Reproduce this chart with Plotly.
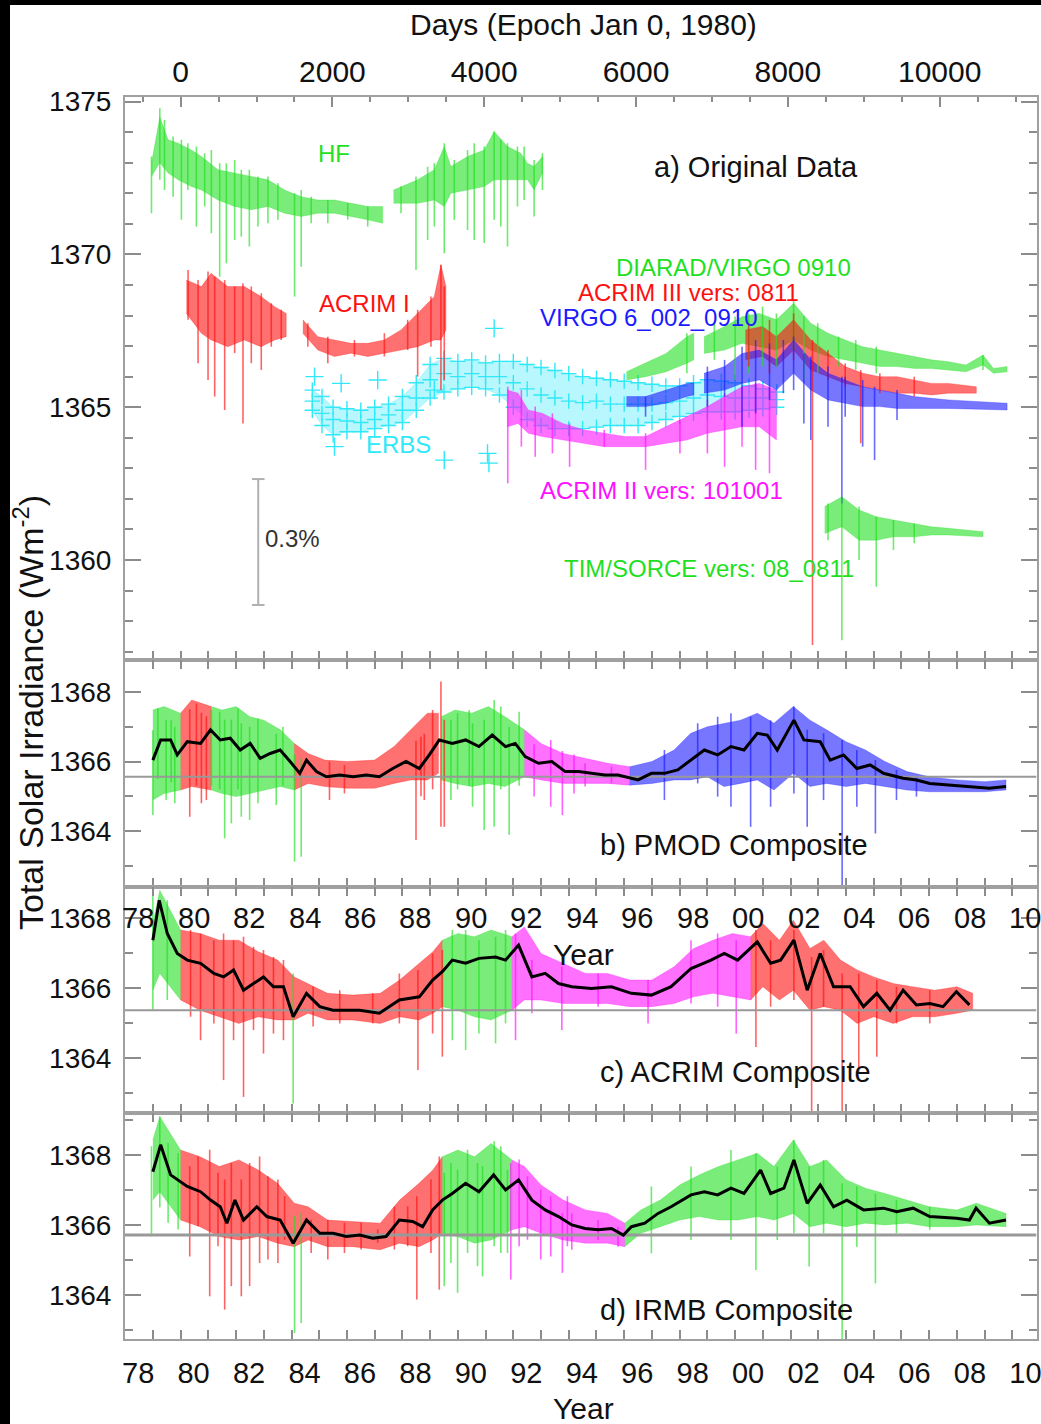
import plotly.graph_objects as go

W, H = 1041, 1424

# ---------------- axis ranges ----------------
XR = [1977.995, 2010.87]          # decimal year
EPOCH = 1980.0                    # Days epoch (Jan 0, 1980)
DPY = 365.25
YR_A = [1356.73, 1375.15]
YR_B = [1362.39, 1368.92]
YR_C = [1362.43, 1368.89]
YR_D = [1362.74, 1369.20]

YEAR_TICKS = list(range(1978, 2011, 2))
YEAR_TEXT = ["78", "80", "82", "84", "86", "88", "90", "92", "94", "96", "98",
             "00", "02", "04", "06", "08", "10"]
DAY_TICKS = [0, 2000, 4000, 6000, 8000, 10000]
DAY_TEXT = ["0", "2000", "4000", "6000", "8000", "10000"]

# ---------------- panel a : original data (band envelopes) ----------------
HF_T = [1978.95, 1979.25, 1979.55, 1979.91, 1980.39, 1980.75, 1981.35, 1981.95, 1982.55, 1983.15,
        1983.75, 1984.35, 1984.95, 1985.55, 1986.15, 1986.75, 1987.29, None,
        1987.68, 1987.95, 1988.55, 1989.15, 1989.51, 1989.75, 1990.35, 1990.95, 1991.31, 1991.79,
        1992.27, 1992.51, 1992.75, 1993.05]
HF_HI = [1372.98, 1374.50, 1373.75, 1373.64, 1373.42, 1373.20, 1372.77, 1372.66, 1372.55, 1372.44,
         1372.11, 1371.89, 1371.78, 1371.78, 1371.67, 1371.57, 1371.57, None,
         1372.11, 1372.22, 1372.44, 1372.77, 1373.53, 1372.88, 1373.20, 1373.42, 1374.02, 1373.53,
         1373.31, 1372.98, 1372.88, 1373.20]
HF_LO = [1372.55, 1373.00, 1372.66, 1372.44, 1372.22, 1372.11, 1371.78, 1371.57, 1371.46, 1371.57,
         1371.35, 1371.24, 1371.35, 1371.35, 1371.24, 1371.13, 1371.02, None,
         1371.67, 1371.67, 1371.67, 1371.78, 1371.57, 1372.00, 1372.11, 1372.22, 1372.44, 1372.44,
         1372.44, 1372.44, 1372.11, 1372.66]

A1_T = [1980.21, 1980.75, 1981.10, 1981.70, 1982.30, 1982.90, 1983.39, 1983.81, None,
        1984.41, 1984.95, 1985.55, 1986.15, 1986.75, 1987.35, 1987.95, 1988.55, 1989.15, 1989.39, 1989.57]
A1_HI = [1369.16, 1368.95, 1369.38, 1368.95, 1368.95, 1368.62, 1368.29, 1368.07, None,
         1367.86, 1367.31, 1367.20, 1367.09, 1367.09, 1367.20, 1367.53, 1368.07, 1368.62, 1369.66, 1368.95]
A1_LO = [1368.07, 1367.42, 1367.20, 1366.98, 1367.20, 1366.98, 1367.20, 1367.31, None,
         1367.42, 1366.87, 1366.66, 1366.77, 1366.66, 1366.77, 1366.87, 1366.98, 1367.20, 1367.20, 1367.53]

ERBS_T = [1984.75, 1985.1, 1985.5, 1986.0, 1986.5, 1987.0, 1987.5, 1988.0, 1988.5, 1989.0, 1989.5,
          1990.0, 1990.5, 1991.0, 1991.5, 1992.0, 1992.5, 1993.0, 1993.5, 1994.0, 1994.5, 1995.0,
          1995.5, 1996.0, 1996.5, 1997.0, 1997.5, 1998.0, 1998.5, 1999.0, 1999.5, 2000.0, 2000.5,
          2001.0, 2001.5]
ERBS_HI = [1365.56, 1365.35, 1365.00, 1364.95, 1364.90, 1365.00, 1365.10, 1365.35, 1365.80, 1366.40,
           1366.60, 1366.50, 1366.55, 1366.45, 1366.50, 1366.50, 1366.40, 1366.30, 1366.20, 1366.10,
           1366.00, 1365.95, 1365.90, 1365.85, 1365.80, 1365.75, 1365.70, 1365.70, 1365.80, 1365.90,
           1365.85, 1365.80, 1365.70, 1365.60, 1365.50]
ERBS_MID = [1365.20, 1364.80, 1364.60, 1364.55, 1364.50, 1364.60, 1364.75, 1364.90, 1365.30, 1365.90,
            1366.10, 1366.00, 1366.10, 1366.00, 1366.00, 1365.80, 1365.60, 1365.40, 1365.30, 1365.20,
            1365.15, 1365.20, 1365.10, 1365.10, 1365.10, 1365.10, 1365.15, 1365.20, 1365.30, 1365.40,
            1365.35, 1365.30, 1365.30, 1365.30, 1365.25]
ERBS_LO = [1364.90, 1364.40, 1364.10, 1364.20, 1364.20, 1364.30, 1364.40, 1364.50, 1364.90, 1365.30,
           1365.50, 1365.60, 1365.65, 1365.60, 1365.40, 1365.00, 1364.60, 1364.40, 1364.30, 1364.30,
           1364.30, 1364.35, 1364.40, 1364.40, 1364.40, 1364.50, 1364.60, 1364.70, 1364.80, 1364.85,
           1364.85, 1364.85, 1364.90, 1364.95, 1365.00]
ERBS_OUT_T = [1984.83, 1985.79, 1987.11, 1985.55, 1991.31, 1989.51, 1991.07, 1989.15, 1991.12]
ERBS_OUT_V = [1366.00, 1365.78, 1365.89, 1363.71, 1367.58, 1363.27, 1363.49, 1365.56, 1363.17]

A2_T = [1991.79, 1992.17, 1992.54, 1993.04, 1993.78, 1994.53, 1995.28, 1996.02, 1996.77, 1997.51,
        1998.26, 1999.00, 1999.62, 2000.25, 2000.87, 2001.49]
A2_HI = [1365.56, 1365.46, 1364.91, 1364.80, 1364.47, 1364.26, 1364.15, 1364.04, 1364.04, 1364.36,
         1364.69, 1365.02, 1365.35, 1365.67, 1365.78, 1365.56]
A2_LO = [1364.36, 1364.47, 1364.15, 1364.04, 1363.93, 1363.82, 1363.71, 1363.71, 1363.71, 1363.82,
         1363.93, 1364.15, 1364.26, 1364.36, 1364.36, 1363.93]

DV_T = [1996.08, 1996.77, 1997.51, 1998.26, 1998.51, None, 1998.88, 1999.62, 2000.25, 2000.87,
        2001.49, 2002.11, 2002.73, 2003.35, 2003.97, 2004.60, 2005.22, 2005.84, 2006.46, 2007.08,
        2007.70, 2008.32, 2008.94, 2009.32, 2009.81]
DV_HI = [1366.16, 1366.44, 1366.76, 1367.31, 1367.42, None, 1367.31, 1367.64, 1367.96, 1368.07,
         1367.86, 1368.40, 1367.75, 1367.42, 1367.20, 1366.98, 1366.87, 1366.76, 1366.66, 1366.55,
         1366.49, 1366.38, 1366.71, 1366.27, 1366.33]
DV_LO = [1365.89, 1366.00, 1366.16, 1366.44, 1366.55, None, 1366.76, 1366.87, 1367.09, 1366.98,
         1366.87, 1367.20, 1366.87, 1366.66, 1366.55, 1366.44, 1366.33, 1366.33, 1366.27, 1366.27,
         1366.22, 1366.16, 1366.38, 1366.11, 1366.16]

A3_T = [2000.37, 2000.99, 2001.49, 2002.11, 2002.73, 2003.35, 2003.97, 2004.60, 2005.22, 2005.84,
        2006.46, 2007.08, 2007.70, 2008.70]
A3_HI = [1367.53, 1367.64, 1367.31, 1367.86, 1367.20, 1366.76, 1366.33, 1366.11, 1366.00, 1366.00,
         1365.89, 1365.78, 1365.78, 1365.67]
A3_LO = [1366.55, 1366.66, 1366.33, 1366.87, 1366.22, 1366.00, 1365.78, 1365.67, 1365.56, 1365.46,
         1365.46, 1365.40, 1365.46, 1365.46]

VG_T = [1996.08, 1996.77, 1997.51, 1998.26, 1998.51, None, 1998.88, 1999.62, 2000.25, 2000.87,
        2001.49, 2002.11, 2002.73, 2003.35, 2003.97, 2004.60, 2005.22, 2005.84, 2006.46, 2007.70, 2009.81]
VG_HI = [1365.35, 1365.35, 1365.56, 1365.78, 1365.80, None, 1366.11, 1366.33, 1366.76, 1366.87,
         1366.55, 1367.20, 1366.55, 1366.11, 1365.89, 1365.67, 1365.56, 1365.46, 1365.35, 1365.24, 1365.13]
VG_LO = [1365.02, 1365.02, 1365.13, 1365.35, 1365.40, None, 1365.46, 1365.56, 1365.78, 1365.89,
         1365.56, 1366.11, 1365.56, 1365.24, 1365.13, 1365.02, 1365.02, 1364.96, 1364.96, 1364.96, 1364.91]

TIM_T = [2003.23, 2003.85, 2004.47, 2005.09, 2005.71, 2006.46, 2007.08, 2007.70, 2008.94]
TIM_HI = [1361.75, 1362.07, 1361.64, 1361.42, 1361.31, 1361.20, 1361.09, 1361.04, 1360.93]
TIM_LO = [1360.87, 1361.09, 1360.65, 1360.65, 1360.76, 1360.76, 1360.82, 1360.82, 1360.76]

# ---------------- panel a : individual excursions (hairs) ----------------
HA_T = [1978.95, 1979.25, 1979.42, 1979.73, 1980.03, 1980.26, 1980.57, 1980.87, 1981.11, 1981.41,
        1981.65, 1981.95, 1982.19, 1982.48, 1982.79, 1983.15, 1983.51, 1984.11, 1984.35, 1984.71,
        1985.31, 1986.03, 1986.75, 1987.95, 1988.49, 1988.91, 1989.15, 1989.51, 1989.87, 1990.35,
        1990.59, 1990.95, 1991.31, 1991.55, 1991.79, 1992.15, 1992.39, 1992.75, 1993.05,
        1980.27, 1980.63, 1980.99, 1981.23, 1981.59, 1981.95, 1982.25, 1982.55, 1982.91, 1983.27,
        1983.63, 1984.59, 1985.31, 1986.27, 1987.35, 1988.19, 1988.55, 1989.03, 1989.39, 1989.51,
        1991.80, 1992.29, 1992.79, 1993.41, 1994.03, 1995.28, 1996.77, 1998.01, 1999.00, 1999.62,
        2000.25, 2000.74, 2001.24,
        1998.26, 1999.25, 2000.00, 2000.49, 2000.99, 2001.49, 2002.11, 2002.48, 2002.98, 2003.73,
        2004.35, 2005.09, 2008.94,
        2000.49, 2001.24, 2002.11, 2002.79, 2003.35, 2003.97, 2004.53, 2005.22, 2006.46,
        1996.77, 1999.00, 1999.62, 2000.25, 2000.74, 2001.24, 2001.74, 2002.11, 2002.48, 2002.73,
        2003.35, 2003.85, 2003.97, 2004.60, 2005.03, 2005.84,
        2003.35, 2003.85, 2004.47, 2005.09, 2005.71, 2006.46]
HA_TOP = [1373.20, 1374.78, 1374.40, 1373.86, 1373.75, 1373.64, 1373.53, 1373.31, 1373.42, 1372.98,
          1372.98, 1373.09, 1372.77, 1372.77, 1372.55, 1372.55, 1372.33, 1372.00, 1372.11, 1371.89,
          1371.78, 1371.67, 1371.57, 1372.22, 1372.55, 1372.87, 1372.98, 1373.64, 1373.09, 1373.42,
          1373.64, 1373.53, 1374.02, 1373.75, 1373.64, 1373.53, 1373.53, 1373.09, 1373.31,
          1369.49, 1369.16, 1369.44, 1369.27, 1369.16, 1368.95, 1369.06, 1368.95, 1368.73, 1368.40,
          1368.19, 1367.75, 1367.31, 1367.20, 1367.42, 1367.86, 1368.19, 1368.62, 1369.66, 1368.95,
          1365.67, 1365.56, 1365.02, 1364.80, 1364.47, 1364.26, 1364.15, 1364.58, 1365.24, 1365.46,
          1365.67, 1365.78, 1365.67,
          1367.42, 1367.75, 1367.97, 1368.07, 1368.29, 1368.07, 1368.51, 1367.97, 1367.75, 1367.31,
          1367.20, 1366.98, 1366.71,
          1367.75, 1367.86, 1368.07, 1367.20, 1366.87, 1366.44, 1366.22, 1366.11, 1366.00,
          1365.35, 1366.33, 1366.55, 1366.98, 1367.20, 1367.09, 1367.20, 1367.31, 1366.76, 1366.66,
          1366.33, 1366.00, 1366.00, 1365.89, 1365.67, 1365.56,
          1361.85, 1362.07, 1361.75, 1361.42, 1361.31, 1361.20]
HA_BOT = [1371.35, 1372.44, 1372.11, 1371.89, 1371.13, 1372.11, 1370.91, 1371.57, 1370.69, 1369.27,
          1369.71, 1370.47, 1370.58, 1370.26, 1370.91, 1371.02, 1371.13, 1368.62, 1369.60, 1371.02,
          1371.02, 1371.13, 1370.91, 1371.35, 1369.49, 1370.47, 1370.91, 1370.04, 1371.13, 1370.80,
          1370.47, 1370.37, 1371.13, 1370.91, 1370.26, 1371.57, 1371.78, 1371.24, 1372.11,
          1367.86, 1366.44, 1365.89, 1365.35, 1364.91, 1366.77, 1364.47, 1366.44, 1366.22, 1366.98,
          1367.20, 1366.98, 1366.44, 1366.66, 1366.66, 1366.87, 1366.00, 1366.98, 1365.56, 1365.89,
          1362.51, 1363.71, 1363.38, 1363.49, 1363.05, 1363.71, 1362.95, 1363.49, 1363.49, 1363.05,
          1363.71, 1362.95, 1362.84,
          1366.11, 1366.55, 1365.89, 1366.11, 1366.33, 1366.33, 1366.87, 1365.89, 1366.11, 1366.33,
          1366.22, 1366.11, 1366.22,
          1366.33, 1366.11, 1366.55, 1357.22, 1365.89, 1365.67, 1363.82, 1365.46, 1365.35,
          1364.69, 1365.02, 1365.35, 1364.36, 1364.80, 1365.24, 1365.46, 1365.56, 1364.47, 1363.93,
          1364.36, 1361.85, 1364.69, 1363.71, 1363.27, 1364.58,
          1360.65, 1357.38, 1360.00, 1359.13, 1360.33, 1360.55]
HA_SRC = ["HF"] * 39 + ["A1"] * 20 + ["A2"] * 13 + ["DV"] * 13 + ["A3"] * 9 + ["V"] * 16 + ["TIM"] * 6

# ---------------- panel b : PMOD composite ----------------
PB_T = [1979.00, 1979.40, 1980.00, 1980.00, 1980.40, 1981.10,
        1981.10, 1981.50, 1982.00, 1982.50, 1983.00, 1983.60, 1984.10,
        1984.10, 1984.60, 1985.20, 1986.00, 1987.00, 1987.70, 1988.30, 1988.90, 1989.30,
        1989.40, 1989.90, 1990.50, 1991.10, 1991.70, 1992.40,
        1992.40, 1993.00, 1993.80, 1994.60, 1995.40, 1996.20,
        1996.20, 1997.00, 1997.80, 1998.40, 1999.00, 1999.60, 2000.20, 2000.80, 2001.40, 2002.10,
        2002.70, 2003.30, 2004.00, 2004.70, 2005.40, 2006.20, 2007.00, 2008.00, 2009.00, 2009.77]
PB_HI = [1367.48, 1367.58, 1367.39, 1367.39, 1367.77, 1367.58,
         1367.58, 1367.48, 1367.58, 1367.29, 1367.19, 1366.91, 1366.52,
         1366.52, 1366.23, 1366.04, 1366.00, 1366.04, 1366.43, 1366.91, 1367.39, 1367.39,
         1367.29, 1367.48, 1367.39, 1367.58, 1367.29, 1366.91,
         1366.91, 1366.52, 1366.23, 1366.09, 1365.95, 1365.85,
         1365.85, 1366.00, 1366.33, 1366.81, 1367.00, 1367.10, 1367.19, 1367.39, 1367.10, 1367.58,
         1367.19, 1366.91, 1366.57, 1366.33, 1366.00, 1365.71, 1365.56, 1365.47, 1365.42, 1365.47]
PB_LO = [1364.89, 1365.08, 1365.18, 1365.18, 1365.28, 1365.18,
         1365.18, 1365.08, 1364.99, 1365.08, 1365.18, 1365.28, 1365.18,
         1365.18, 1365.37, 1365.28, 1365.23, 1365.23, 1365.37, 1365.47, 1365.47, 1365.66,
         1365.47, 1365.37, 1365.28, 1365.37, 1365.28, 1365.56,
         1365.56, 1365.47, 1365.37, 1365.37, 1365.37, 1365.32,
         1365.32, 1365.37, 1365.47, 1365.47, 1365.56, 1365.28, 1365.37, 1365.47, 1365.18, 1365.66,
         1365.28, 1365.37, 1365.28, 1365.37, 1365.28, 1365.18, 1365.13, 1365.13, 1365.13, 1365.18]
PB_SRC = ["HF"] * 3 + ["A1"] * 3 + ["HF"] * 7 + ["A1"] * 9 + ["HF"] * 6 + ["A2"] * 6 + ["V"] * 20

PB_H_T = [1979.00, 1979.18, 1979.48, 1979.66, 1979.79,
          1980.33, 1980.57, 1980.75, 1980.93,
          1981.11, 1981.41, 1981.59, 1981.83, 1982.07, 1982.19, 1982.49, 1982.79, 1983.45, 1983.69,
          1984.11, 1984.35,
          1985.37, 1985.91, 1988.49, 1988.67, 1988.79, 1989.09, 1989.39, 1989.51,
          1989.75, 1989.99, 1990.41, 1990.53, 1990.95, 1991.31, 1991.55, 1991.85, 1992.21,
          1992.75, 1993.35, 1993.77, 1994.19, 1994.59, 1995.54,
          1997.45, 1998.65, 1999.37, 1999.85, 2000.56, 2001.28, 2002.12, 2002.60, 2003.19, 2003.86,
          2004.39, 2005.06, 2005.82, 2006.54]
PB_H_TOP = [1366.90, 1367.53, 1367.20, 1367.19, 1367.00,
            1367.50, 1367.67, 1367.40, 1367.30,
            1367.48, 1367.43, 1367.20, 1367.20, 1367.53, 1367.10, 1367.00, 1367.24, 1366.80, 1367.00,
            1366.20, 1366.10,
            1366.00, 1365.90, 1366.60, 1366.71, 1366.80, 1367.48, 1368.30, 1367.20,
            1367.20, 1367.39, 1367.48, 1367.10, 1367.20, 1367.77, 1367.58, 1367.00, 1367.43,
            1366.50, 1366.62, 1366.30, 1366.20, 1365.95, 1365.85,
            1366.33, 1367.10, 1367.29, 1367.39, 1367.29, 1367.19, 1367.58, 1366.91, 1366.81, 1366.62,
            1366.33, 1366.04, 1365.76, 1365.56]
PB_H_BOT = [1364.46, 1365.50, 1364.89, 1365.40, 1364.80,
            1364.41, 1365.30, 1364.80, 1364.89,
            1365.30, 1365.20, 1363.79, 1364.22, 1365.20, 1364.41, 1364.32, 1364.80, 1364.75, 1365.30,
            1363.12, 1363.26,
            1364.89, 1365.08, 1363.74, 1365.00, 1364.89, 1365.20, 1364.12, 1364.12,
            1364.89, 1365.20, 1365.30, 1364.70, 1364.03, 1364.12, 1365.20, 1363.89, 1365.30,
            1364.99, 1364.70, 1364.46, 1365.08, 1365.28, 1365.37,
            1364.89, 1365.37, 1364.99, 1364.70, 1364.12, 1364.70, 1365.08, 1364.12, 1364.89, 1362.40,
            1364.70, 1363.93, 1364.89, 1364.99]
PB_H_SRC = (["HF"] * 5 + ["A1"] * 4 + ["HF"] * 12 + ["A1"] * 8 + ["HF"] * 9 + ["A2"] * 6
            + ["V"] * 14)

PB_LINE_T = [1979.00, 1979.28, 1979.64, 1979.88, 1980.24, 1980.72, 1981.08, 1981.43, 1981.79, 1982.15,
             1982.51, 1982.87, 1983.23, 1983.59, 1983.95, 1984.30, 1984.54, 1984.90, 1985.26, 1985.74,
             1986.22, 1986.70, 1987.17, 1987.65, 1988.13, 1988.61, 1988.97, 1989.33, 1989.80, 1990.28,
             1990.76, 1991.24, 1991.72, 1992.07, 1992.43, 1992.91, 1993.39, 1993.87, 1994.35, 1994.82,
             1995.30, 1995.78, 1996.50, 1996.98, 1997.45, 1997.93, 1998.41, 1998.89, 1999.37, 1999.85,
             2000.32, 2000.80, 2001.16, 2001.52, 2002.12, 2002.48, 2003.07, 2003.43, 2003.91, 2004.39,
             2004.87, 2005.35, 2006.06, 2006.54, 2007.02, 2007.74, 2008.45, 2009.17, 2009.77]
PB_LINE_V = [1366.04, 1366.62, 1366.62, 1366.19, 1366.57, 1366.52, 1366.91, 1366.62, 1366.67, 1366.33,
             1366.52, 1366.09, 1366.23, 1366.33, 1366.00, 1365.66, 1366.04, 1365.71, 1365.56, 1365.61,
             1365.56, 1365.61, 1365.56, 1365.80, 1366.00, 1365.80, 1366.19, 1366.62, 1366.52, 1366.62,
             1366.43, 1366.76, 1366.43, 1366.52, 1366.14, 1365.95, 1366.00, 1365.71, 1365.71, 1365.66,
             1365.61, 1365.61, 1365.47, 1365.66, 1365.66, 1365.76, 1366.04, 1366.33, 1366.19, 1366.43,
             1366.33, 1366.81, 1366.76, 1366.33, 1367.19, 1366.62, 1366.57, 1366.04, 1366.19, 1365.80,
             1365.90, 1365.66, 1365.52, 1365.47, 1365.37, 1365.32, 1365.28, 1365.23, 1365.28]
PB_REF = 1365.56

# ---------------- panel c : ACRIM composite ----------------
PC_T = [1979.00, 1979.25, 1980.00,
        1980.00, 1980.70, 1981.40, 1982.10, 1982.80, 1983.50, 1984.10, 1984.60, 1985.30, 1986.20,
        1987.20, 1987.90, 1988.60, 1989.10, 1989.44,
        1989.44, 1990.00, 1990.60, 1991.20, 1991.95,
        1991.95, 1992.40, 1993.00, 1993.80, 1994.60, 1995.40, 1996.20, 1997.00, 1997.80, 1998.50,
        1999.20, 1999.90, 2000.56,
        2000.56, 2001.00, 2001.60, 2002.10, 2002.70, 2003.20, 2003.80, 2004.40, 2005.00, 2005.70,
        2006.40, 2007.20, 2008.00, 2008.57]
PC_HI = [1367.85, 1368.80, 1367.66,
         1367.66, 1367.56, 1367.37, 1367.37, 1367.04, 1366.80, 1366.32, 1366.13, 1365.85, 1365.80,
         1365.85, 1366.23, 1366.71, 1367.04, 1367.37,
         1367.37, 1367.56, 1367.47, 1367.66, 1367.47,
         1367.47, 1367.75, 1366.99, 1366.71, 1366.42, 1366.42, 1366.23, 1366.23, 1366.61, 1367.13,
         1367.37, 1367.56, 1367.47,
         1367.47, 1367.85, 1367.37, 1367.94, 1367.13, 1367.37, 1366.80, 1366.52, 1366.32, 1366.13,
         1366.04, 1365.94, 1366.04, 1365.85]
PC_LO = [1365.94, 1366.42, 1365.66,
         1365.66, 1365.37, 1365.18, 1364.99, 1365.18, 1365.09, 1365.09, 1365.28, 1365.09, 1365.09,
         1364.99, 1365.18, 1365.09, 1365.28, 1365.47,
         1365.47, 1365.37, 1365.18, 1365.09, 1365.37,
         1365.37, 1365.66, 1365.66, 1365.56, 1365.56, 1365.56, 1365.47, 1365.47, 1365.56, 1365.75,
         1365.85, 1365.75, 1365.66,
         1365.66, 1366.04, 1365.66, 1365.94, 1365.37, 1365.47, 1365.37, 1364.99, 1365.18, 1364.99,
         1365.18, 1365.18, 1365.28, 1365.37]
PC_SRC = ["HF"] * 3 + ["A1"] * 15 + ["HF"] * 5 + ["A2"] * 13 + ["A3"] * 14

PC_H_T = [1979.00, 1979.52,
          1980.36, 1980.72, 1981.20, 1981.55, 1981.91, 1982.27, 1982.63, 1982.99, 1983.35, 1983.71,
          1984.06,
          1984.78, 1985.74, 1986.93, 1987.89, 1988.56, 1989.09, 1989.44,
          1989.80, 1990.28, 1990.76, 1991.36, 1991.72,
          1992.08, 1992.67, 1993.75, 1995.06, 1996.86, 1998.41, 1999.37, 2000.04,
          2000.75, 2001.28, 2002.12, 2002.76, 2003.19, 2003.86, 2004.46, 2005.11, 2005.82, 2007.02]
PC_H_TOP = [1368.80, 1368.51,
            1367.66, 1367.56, 1367.37, 1367.56, 1367.37, 1367.47, 1367.18, 1367.09, 1366.89, 1366.80,
            1366.42,
            1366.04, 1365.94, 1365.85, 1366.42, 1366.52, 1366.99, 1367.09,
            1367.66, 1367.66, 1367.37, 1367.47, 1367.66,
            1367.56, 1366.80, 1366.61, 1366.42, 1366.23, 1367.37, 1367.56, 1367.37,
            1367.66, 1367.37, 1367.66, 1366.89, 1367.09, 1366.42, 1366.42, 1366.23, 1366.04, 1365.94]
PC_H_BOT = [1365.37, 1365.66,
            1365.18, 1364.51, 1364.99, 1363.37, 1364.51, 1362.89, 1364.80, 1364.13, 1364.70, 1364.51,
            1362.70,
            1364.90, 1364.99, 1364.99, 1364.99, 1363.66, 1364.70, 1364.04,
            1364.51, 1364.23, 1364.70, 1364.42, 1364.99,
            1364.51, 1365.28, 1364.80, 1365.47, 1364.99, 1365.56, 1365.47, 1364.70,
            1364.32, 1365.47, 1365.66, 1361.66, 1365.47, 1361.66, 1363.56, 1364.04, 1364.99, 1364.99]
PC_H_SRC = (["HF"] * 2 + ["A1"] * 10 + ["HF"] + ["A1"] * 7 + ["HF"] * 5 + ["A2"] * 8
            + ["A3"] * 10)

PC_LINE_T = [1979.00, 1979.23, 1979.52, 1979.88, 1980.24, 1980.72, 1981.20, 1981.55, 1981.91, 1982.27,
             1982.63, 1982.99, 1983.35, 1983.71, 1984.06, 1984.54, 1985.02, 1985.50, 1986.46, 1987.17,
             1987.89, 1988.61, 1989.09, 1989.44, 1989.80, 1990.28, 1990.76, 1991.36, 1991.72, 1992.19,
             1992.67, 1993.15, 1993.63, 1994.11, 1994.82, 1995.54, 1996.26, 1996.98, 1997.69, 1998.41,
             1999.13, 1999.61, 2000.09, 2000.80, 2001.28, 2001.64, 2002.12, 2002.60, 2003.07, 2003.55,
             2004.15, 2004.63, 2005.11, 2005.59, 2006.06, 2006.54, 2007.02, 2007.50, 2007.98, 2008.45]
PC_LINE_V = [1367.37, 1368.51, 1367.56, 1366.99, 1366.80, 1366.71, 1366.42, 1366.32, 1366.52, 1365.94,
             1366.13, 1366.32, 1366.04, 1366.04, 1365.18, 1365.85, 1365.47, 1365.37, 1365.37, 1365.28,
             1365.66, 1365.75, 1366.23, 1366.47, 1366.80, 1366.71, 1366.85, 1366.89, 1366.80, 1367.23,
             1366.32, 1366.42, 1366.13, 1366.04, 1365.99, 1366.04, 1365.85, 1365.80, 1366.04, 1366.56,
             1366.80, 1366.99, 1366.80, 1367.32, 1366.71, 1366.80, 1367.37, 1365.94, 1366.99, 1366.04,
             1366.04, 1365.47, 1365.85, 1365.37, 1365.94, 1365.52, 1365.56, 1365.47, 1365.90, 1365.52]
PC_REF = 1365.37

# ---------------- panel d : IRMB composite ----------------
PD_T = [1979.00, 1979.25, 1980.00,
        1980.00, 1980.70, 1981.40, 1982.10, 1982.80, 1983.50, 1984.10, 1984.60, 1985.30, 1986.20,
        1987.20, 1987.90, 1988.60, 1989.10, 1989.44,
        1989.44, 1990.00, 1990.60, 1991.20, 1991.95,
        1991.95, 1992.40, 1993.00, 1993.80, 1994.60, 1995.40, 1996.02,
        1996.02, 1996.60, 1997.30, 1998.00, 1998.70, 1999.40, 2000.10, 2000.80, 2001.40, 2002.10,
        2002.70, 2003.30, 2004.00, 2004.70, 2005.40, 2006.20, 2007.00, 2008.00, 2008.70, 2009.77]
PD_HI = [1368.43, 1369.10, 1368.14,
         1368.14, 1367.95, 1367.67, 1367.86, 1367.57, 1367.19, 1366.62, 1366.52, 1366.14, 1366.10,
         1366.05, 1366.71, 1367.19, 1367.57, 1367.95,
         1367.95, 1368.14, 1367.95, 1368.33, 1367.86,
         1367.86, 1367.67, 1367.14, 1366.71, 1366.43, 1366.33, 1366.05,
         1366.05, 1366.43, 1366.71, 1367.14, 1367.43, 1367.67, 1367.86, 1368.05, 1367.67, 1368.43,
         1367.67, 1367.86, 1367.29, 1367.05, 1366.90, 1366.71, 1366.52, 1366.43, 1366.62, 1366.33]
PD_LO = [1366.71, 1366.95, 1366.14,
         1366.14, 1365.95, 1365.67, 1365.57, 1365.67, 1365.48, 1365.38, 1365.57, 1365.38, 1365.38,
         1365.29, 1365.48, 1365.38, 1365.57, 1365.76,
         1365.76, 1365.67, 1365.48, 1365.57, 1365.86,
         1365.86, 1365.95, 1365.76, 1365.57, 1365.48, 1365.48, 1365.38,
         1365.38, 1365.76, 1365.95, 1366.14, 1366.24, 1366.14, 1366.14, 1366.24, 1366.14, 1366.33,
         1365.95, 1366.05, 1365.95, 1366.05, 1366.00, 1366.05, 1365.95, 1365.95, 1366.00, 1365.95]
PD_SRC = ["HF"] * 3 + ["A1"] * 15 + ["HF"] * 5 + ["A2"] * 7 + ["DV"] * 20

PD_H_T = [1978.95, 1979.25, 1979.55, 1979.91,
          1980.33, 1980.63, 1981.05, 1981.35, 1981.59, 1981.83, 1982.19, 1982.49, 1982.85, 1983.15,
          1983.51, 1983.75,
          1984.11, 1984.35,
          1984.71, 1985.31, 1985.91, 1986.51, 1987.11, 1987.71, 1988.19, 1988.52, 1989.03, 1989.33,
          1989.51, 1989.75, 1989.99, 1990.35, 1990.71, 1990.89, 1991.31, 1991.55, 1991.79,
          1991.91, 1992.21, 1992.51, 1992.99, 1993.35, 1993.77, 1993.95, 1994.11, 1995.06, 1995.78,
          1996.98, 1998.41, 1999.85, 2000.75, 2001.52, 2002.12, 2002.67, 2003.19, 2003.86, 2004.39,
          2005.06, 2005.82, 2007.02]
PD_H_TOP = [1368.25, 1369.10, 1368.34, 1368.06,
            1367.68, 1367.96, 1368.15, 1367.49, 1367.30, 1367.77, 1367.30, 1367.77, 1367.96, 1367.39,
            1367.30, 1366.82,
            1366.25, 1366.34,
            1366.15, 1366.15, 1366.06, 1366.06, 1365.87, 1366.53, 1366.53, 1366.82, 1367.30, 1367.96,
            1367.49, 1367.77, 1367.58, 1368.15, 1367.77, 1367.68, 1368.39, 1368.25, 1367.58,
            1367.77, 1367.87, 1367.39, 1367.01, 1366.82, 1366.34, 1366.82, 1366.33, 1366.14, 1365.95,
            1367.10, 1367.67, 1368.14, 1368.05, 1367.67, 1368.43, 1367.67, 1367.86, 1367.19, 1367.10,
            1366.90, 1366.71, 1366.52]
PD_H_BOT = [1365.68, 1366.50, 1366.06, 1365.87,
            1365.10, 1365.96, 1363.96, 1365.39, 1363.58, 1364.25, 1363.96, 1364.25, 1364.91, 1365.01,
            1364.91, 1365.58,
            1362.91, 1363.20,
            1365.20, 1365.01, 1365.20, 1365.30, 1365.49, 1365.30, 1365.39, 1363.87, 1365.20, 1364.15,
            1364.25, 1364.91, 1364.06, 1365.20, 1364.82, 1364.53, 1365.39, 1365.20, 1365.20,
            1364.44, 1365.39, 1365.58, 1365.01, 1365.10, 1364.63, 1365.39, 1365.29, 1365.57, 1365.38,
            1365.19, 1365.57, 1365.57, 1364.71, 1365.57, 1365.76, 1364.81, 1365.76, 1362.74, 1365.38,
            1364.33, 1365.76, 1365.86]
PD_H_SRC = (["HF"] * 4 + ["A1"] * 12 + ["HF"] * 2 + ["A1"] * 10 + ["HF"] * 9 + ["A2"] * 10
            + ["DV"] * 13)

PD_LINE_T = [1979.00, 1979.28, 1979.64, 1979.88, 1980.24, 1980.72, 1981.08, 1981.43, 1981.67, 1981.96,
             1982.27, 1982.75, 1983.11, 1983.59, 1984.06, 1984.54, 1985.02, 1985.50, 1985.98, 1986.46,
             1986.93, 1987.41, 1987.89, 1988.37, 1988.73, 1989.09, 1989.44, 1989.80, 1990.28, 1990.76,
             1991.29, 1991.72, 1992.19, 1992.67, 1993.15, 1993.63, 1994.11, 1994.59, 1995.06, 1995.54,
             1995.97, 1996.26, 1996.74, 1997.22, 1997.69, 1998.41, 1998.89, 1999.37, 1999.85, 2000.32,
             2000.92, 2001.28, 2001.76, 2002.12, 2002.60, 2003.07, 2003.55, 2004.03, 2004.63, 2005.35,
             2005.83, 2006.42, 2007.02, 2007.98, 2008.45, 2008.69, 2009.17, 2009.77]
PD_LINE_V = [1367.52, 1368.29, 1367.43, 1367.29, 1367.10, 1366.95, 1366.71, 1366.52, 1366.05, 1366.71,
             1366.14, 1366.52, 1366.24, 1366.14, 1365.48, 1366.14, 1365.76, 1365.76, 1365.67, 1365.71,
             1365.62, 1365.67, 1366.14, 1366.10, 1365.95, 1366.43, 1366.71, 1366.90, 1367.19, 1366.95,
             1367.43, 1367.00, 1367.29, 1366.71, 1366.43, 1366.24, 1366.00, 1365.90, 1365.86, 1365.90,
             1365.71, 1365.95, 1366.05, 1366.33, 1366.52, 1366.86, 1366.95, 1366.86, 1367.05, 1366.90,
             1367.57, 1366.90, 1367.05, 1367.86, 1366.62, 1367.14, 1366.52, 1366.71, 1366.43, 1366.48,
             1366.38, 1366.48, 1366.24, 1366.19, 1366.14, 1366.48, 1366.05, 1366.14]
PD_REF = 1365.71

# scale bar (0.3 %)
SB_X = 1982.80
SB_LO, SB_HI = 1358.53, 1362.65

# ---------------- styling ----------------
COL = {"HF": "#1fe01f", "DV": "#1fe01f", "TIM": "#1fe01f", "A1": "#ff1010", "A3": "#ff1010",
       "A2": "#ff10ff", "V": "#1a1aff", "ERBS": "#30e8f8"}
FONT = "Liberation Sans, Arial, Helvetica, sans-serif"
FRAME = "#a0a0a0"
TICKC = "#8c8c8c"
BAND_ALPHA = 0.6


def rgba(hexc, a):
    h = hexc.lstrip("#")
    return "rgba(%d,%d,%d,%s)" % (int(h[0:2], 16), int(h[2:4], 16), int(h[4:6], 16), a)


fig = go.Figure()


def poly(t, hi, lo, idx, color, xa, ya, alpha=BAND_ALPHA):
    xs = [t[i] for i in idx] + [t[i] for i in reversed(idx)]
    ys = [hi[i] for i in idx] + [lo[i] for i in reversed(idx)]
    fig.add_trace(go.Scatter(x=xs, y=ys, mode="lines", fill="toself",
                             fillcolor=rgba(color, alpha), line=dict(color=rgba(color, 0.35), width=0.8),
                             hoverinfo="skip", showlegend=False, xaxis=xa, yaxis=ya))


def band(t, hi, lo, color, xa, ya, alpha=BAND_ALPHA):
    run = []
    for i, v in enumerate(t):
        if v is None:
            if run:
                poly(t, hi, lo, run, color, xa, ya, alpha)
            run = []
        else:
            run.append(i)
    if run:
        poly(t, hi, lo, run, color, xa, ya, alpha)


def comp_band(t, hi, lo, src, xa, ya):
    i, n = 0, len(t)
    while i < n:
        j = i
        while j + 1 < n and src[j + 1] == src[i]:
            j += 1
        poly(t, hi, lo, list(range(i, j + 1)), COL[src[i]], xa, ya)
        i = j + 1


def hairs(t, top, bot, src, xa, ya):
    for s in dict.fromkeys(src):
        xs, ys = [], []
        for k in range(len(t)):
            if src[k] == s:
                xs += [t[k], t[k], None]
                ys += [top[k], bot[k], None]
        fig.add_trace(go.Scatter(x=xs, y=ys, mode="lines", line=dict(color=rgba(COL[s], 0.65), width=1.6),
                                 hoverinfo="skip", showlegend=False, xaxis=xa, yaxis=ya))


def black(t, v, xa, ya):
    fig.add_trace(go.Scatter(x=t, y=v, mode="lines", line=dict(color="black", width=3),
                             hoverinfo="skip", showlegend=False, xaxis=xa, yaxis=ya))


def refline(v, xa, ya, w=2):
    fig.add_trace(go.Scatter(x=XR, y=[v, v], mode="lines", line=dict(color="#999999", width=w),
                             hoverinfo="skip", showlegend=False, xaxis=xa, yaxis=ya))


# ---- panel a
band(ERBS_T, ERBS_HI, ERBS_LO, COL["ERBS"], "x", "y", alpha=0.35)
for arr in (ERBS_HI, ERBS_MID, ERBS_LO):
    fig.add_trace(go.Scatter(x=ERBS_T, y=arr, mode="markers",
                             marker=dict(symbol="cross-thin", size=11, line=dict(color=COL["ERBS"], width=1.4)),
                             hoverinfo="skip", showlegend=False, xaxis="x", yaxis="y"))
fig.add_trace(go.Scatter(x=ERBS_OUT_T, y=ERBS_OUT_V, mode="markers",
                         marker=dict(symbol="cross-thin", size=13, line=dict(color=COL["ERBS"], width=1.4)),
                         hoverinfo="skip", showlegend=False, xaxis="x", yaxis="y"))
band(HF_T, HF_HI, HF_LO, COL["HF"], "x", "y")
band(A1_T, A1_HI, A1_LO, COL["A1"], "x", "y")
band(A2_T, A2_HI, A2_LO, COL["A2"], "x", "y")
band(DV_T, DV_HI, DV_LO, COL["DV"], "x", "y")
band(A3_T, A3_HI, A3_LO, COL["A3"], "x", "y")
band(VG_T, VG_HI, VG_LO, COL["V"], "x", "y")
band(TIM_T, TIM_HI, TIM_LO, COL["TIM"], "x", "y")
hairs(HA_T, HA_TOP, HA_BOT, HA_SRC, "x", "y")
fig.add_trace(go.Scatter(x=[SB_X, SB_X], y=[SB_LO, SB_HI], mode="lines+markers",
                         line=dict(color="#b0b0b0", width=2),
                         marker=dict(symbol="line-ew", size=9, line=dict(color="#b0b0b0", width=2)),
                         hoverinfo="skip", showlegend=False, xaxis="x", yaxis="y"))
# invisible anchor for the Days axis
fig.add_trace(go.Scatter(x=[DAY_TICKS[0]], y=[YR_A[0]], mode="markers", marker=dict(opacity=0),
                         hoverinfo="skip", showlegend=False, xaxis="x5", yaxis="y"))

# ---- panels b, c, d
comp_band(PB_T, PB_HI, PB_LO, PB_SRC, "x2", "y2")
hairs(PB_H_T, PB_H_TOP, PB_H_BOT, PB_H_SRC, "x2", "y2")
refline(PB_REF, "x2", "y2")
black(PB_LINE_T, PB_LINE_V, "x2", "y2")

comp_band(PC_T, PC_HI, PC_LO, PC_SRC, "x3", "y3")
hairs(PC_H_T, PC_H_TOP, PC_H_BOT, PC_H_SRC, "x3", "y3")
refline(PC_REF, "x3", "y3")
black(PC_LINE_T, PC_LINE_V, "x3", "y3")

comp_band(PD_T, PD_HI, PD_LO, PD_SRC, "x4", "y4")
hairs(PD_H_T, PD_H_TOP, PD_H_BOT, PD_H_SRC, "x4", "y4")
refline(PD_REF, "x4", "y4", w=3)
black(PD_LINE_T, PD_LINE_V, "x4", "y4")


# ---------------- layout ----------------
def py(p):
    return 1 - p / H


XD = [125 / W, 1036.5 / W]
common = dict(showline=True, linecolor=FRAME, linewidth=2, showgrid=False, zeroline=False,
              ticks="inside", tickcolor=TICKC, tickwidth=1.5,
              tickfont=dict(family=FONT, size=28, color="#111111"))


def yax(dom, rng, major, t0):
    return dict(common, domain=dom, range=rng, tickmode="linear", tick0=t0, dtick=major,
                ticklen=16, mirror="ticks", ticklabelstandoff=6,
                minor=dict(tickmode="linear", tick0=t0, dtick=1, ticklen=8, ticks="inside",
                           tickcolor=TICKC, tickwidth=1.5, showgrid=False))


def xax(anchor, dom):
    return dict(common, domain=dom, anchor=anchor, range=XR, tickmode="linear", tick0=1980, dtick=1,
                ticklen=9, showticklabels=False)


DR = [(XR[0] - EPOCH) * DPY, (XR[1] - EPOCH) * DPY]

fig.update_layout(
    width=W, height=H, margin=dict(l=0, r=0, t=0, b=0, autoexpand=False),
    paper_bgcolor="white", plot_bgcolor="white", showlegend=False,
    font=dict(family=FONT, size=24, color="#111111"),
    xaxis=dict(xax("y", XD), mirror=True),
    xaxis2=dict(xax("y2", XD), mirror="ticks"),
    xaxis3=dict(xax("y3", XD), mirror="ticks"),
    xaxis4=dict(xax("y4", XD), mirror="ticks", showticklabels=True, tickmode="array",
                tickvals=YEAR_TICKS, ticktext=YEAR_TEXT, ticklen=9, ticklabelshift=13,
                ticklabelstandoff=7, ticklabeloverflow="allow",
                tickfont=dict(family=FONT, size=29, color="#111111"),
                minor=dict(tickmode="linear", tick0=1979, dtick=1, ticklen=9, ticks="inside",
                           tickcolor=TICKC, tickwidth=1.5, showgrid=False)),
    xaxis5=dict(common, overlaying="x", side="top", anchor="y", range=DR, showline=False,
                tickmode="array", tickvals=DAY_TICKS, ticktext=DAY_TEXT, ticklen=10,
                ticklabelstandoff=8, ticklabeloverflow="allow",
                tickfont=dict(family=FONT, size=30, color="#111111"),
                minor=dict(tickmode="linear", tick0=0, dtick=500, ticklen=5, ticks="inside",
                           tickcolor=TICKC, tickwidth=1.5, showgrid=False)),
    yaxis=yax([py(660), py(97)], YR_A, 5, 1360),
    yaxis2=yax([py(887), py(660)], YR_B, 2, 1364),
    yaxis3=yax([py(1113), py(887)], YR_C, 2, 1364),
    yaxis4=yax([py(1339), py(1113)], YR_D, 2, 1364),
)

ann = []


def txt(x, y, s, size, color="#111111", xanchor="center", angle=0):
    ann.append(dict(x=x / W, y=py(y), xref="paper", yref="paper", text=s, showarrow=False,
                    xanchor=xanchor, yanchor="middle", textangle=angle,
                    font=dict(family=FONT, size=size, color=color)))


txt(583, 24, "Days (Epoch Jan 0, 1980)", 30)
txt(652, 167, "a) Original Data", 29, xanchor="left")
txt(334, 153, "HF", 24, COL["HF"])
txt(364, 303, "ACRIM I", 24, COL["A1"])
txt(398, 444, "ERBS", 24, COL["ERBS"])
txt(614, 267, "DIARAD/VIRGO 0910", 24, COL["DV"], xanchor="left")
txt(576, 292, "ACRIM III vers: 0811", 24, COL["A3"], xanchor="left")
txt(538, 317, "VIRGO 6_002_0910", 24, COL["V"], xanchor="left")
txt(538, 490, "ACRIM II vers: 101001", 24, COL["A2"], xanchor="left")
txt(562, 568, "TIM/SORCE vers: 08_0811", 24, COL["TIM"], xanchor="left")
txt(263, 538, "0.3%", 24, "#333333", xanchor="left")
txt(598, 845, "b) PMOD Composite", 29, xanchor="left")
txt(598, 1072, "c) ACRIM Composite", 29, xanchor="left")
txt(598, 1310, "d) IRMB Composite", 29, xanchor="left")
txt(583, 955, "Year", 30)
txt(583, 1408, "Year", 30)
txt(28, 713, "Total Solar Irradiance (Wm<sup>-2</sup>)", 34, angle=-90)

# stray year-label row printed over the top of panel c
for v, s in zip(YEAR_TICKS, YEAR_TEXT):
    ann.append(dict(x=v, y=py(918), xref="x3", yref="paper", text=s, showarrow=False, xshift=13,
                    xanchor="center", yanchor="middle", font=dict(family=FONT, size=29, color="#111111")))

fig.update_layout(annotations=ann)

fig.update_layout(shapes=[
    dict(type="rect", xref="paper", yref="paper", x0=0, x1=10 / W, y0=0, y1=1,
         fillcolor="black", line=dict(width=0), layer="above"),
    dict(type="rect", xref="paper", yref="paper", x0=0, x1=1, y0=py(5), y1=1,
         fillcolor="black", line=dict(width=0), layer="above"),
])

PIN = ("var d=document.getElementById('{plot_id}');"
       "d.style.position='fixed';d.style.left='0px';d.style.top='0px';"
       "document.body.style.margin='0';document.body.style.background='white';"
       "document.documentElement.style.overflow='hidden';")

fig.write_html("out.html", config={"displayModeBar": False}, post_script=PIN)
